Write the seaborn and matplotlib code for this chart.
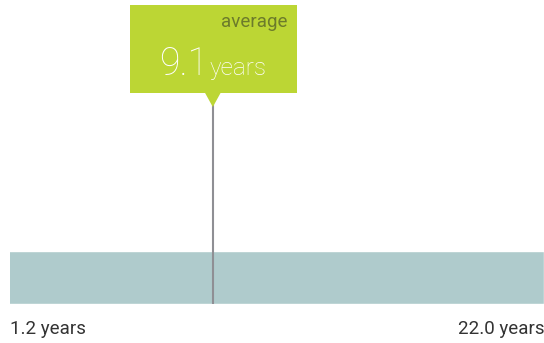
import matplotlib
matplotlib.use("Agg")
import matplotlib.pyplot as plt
from matplotlib.patches import Rectangle, Polygon
import seaborn as sns

# Range of years and the average marked on it
min_years = 1.2
max_years = 22.0
avg_years = 9.1
range_labels = ["1.2 years", "22.0 years"]
avg_value_label = "9.1"
avg_unit_label = "years"
avg_title = "average"

sns.set_theme(style="white")
plt.rcParams["font.family"] = ["Roboto", "DejaVu Sans"]

W, H = 544, 343
fig = plt.figure(figsize=(W / 100, H / 100), dpi=100)
fig.patch.set_facecolor("white")

# Range bar
bar_ax = fig.add_axes([10 / W, (H - 304) / H, 534 / W, 53 / H])
sns.barplot(x=[max_years], y=["range"], orient="h", color="#afcbcc",
            saturation=1, width=1.0, ax=bar_ax)
bar_ax.set_xlim(min_years, max_years)
bar_ax.set_ylim(-0.5, 0.5)
bar_ax.axis("off")

# Overlay in pixel coordinates for the marker and callout
ov = fig.add_axes([0, 0, 1, 1], zorder=3)
ov.set_xlim(0, W)
ov.set_ylim(H, 0)
ov.axis("off")
ov.patch.set_alpha(0)

avg_px = bar_ax.transData.transform((avg_years, 0))[0]
min_px = bar_ax.transData.transform((min_years, 0))[0]
max_px = bar_ax.transData.transform((max_years, 0))[0]

green = "#bcd634"
ov.plot([avg_px, avg_px], [100, 304], color="#8f8f94", lw=1.5,
        solid_capstyle="butt", zorder=2)
ov.add_patch(Rectangle((avg_px - 83, 5), 167, 88, facecolor=green,
                       edgecolor="none", zorder=3))
ov.add_patch(Polygon([(avg_px - 8, 92.5), (avg_px + 8, 92.5), (avg_px, 107)],
                     closed=True, facecolor=green, edgecolor="none", zorder=3))

ov.text(avg_px + 75, 22, avg_title, ha="right", va="center",
        fontsize=13.5, color="#6c7b2b", zorder=4)
ov.text(avg_px - 54, 75, avg_value_label, ha="left", va="baseline",
        fontsize=27, fontweight="light", color="white", zorder=4)
ov.text(avg_px - 3, 75, avg_unit_label, ha="left", va="baseline",
        fontsize=17.5, fontweight="light", color="white", zorder=4)

ov.text(min_px, 329, range_labels[0], ha="left", va="center",
        fontsize=13.5, color="#333333")
ov.text(max_px, 329, range_labels[1], ha="right", va="center",
        fontsize=13.5, color="#333333")

fig.savefig("out.png", dpi=100, facecolor="white")
